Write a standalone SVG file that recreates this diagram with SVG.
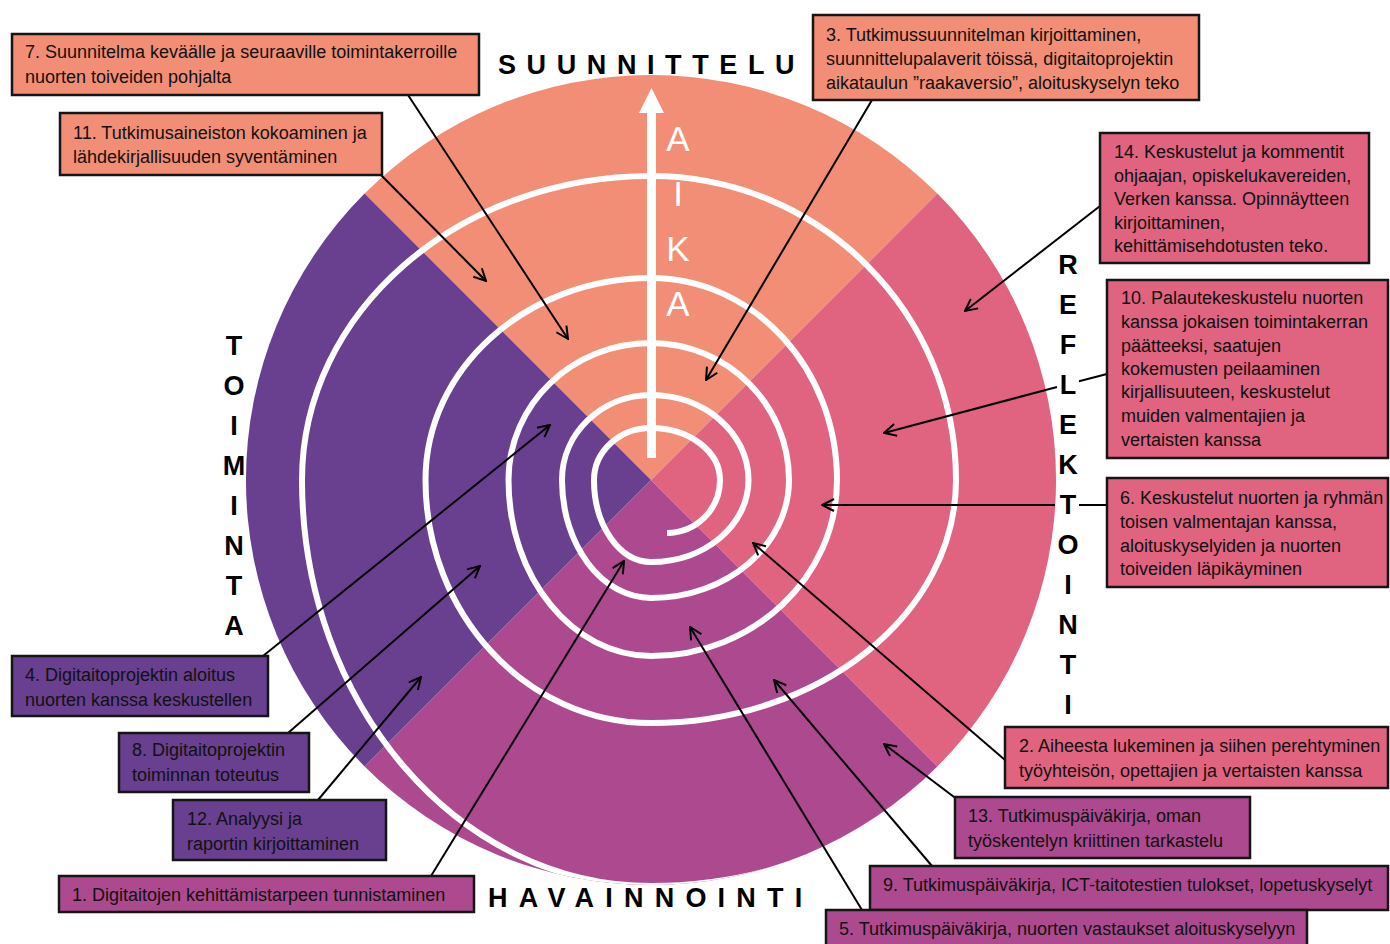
<svg xmlns="http://www.w3.org/2000/svg" width="1390" height="944" viewBox="0 0 1390 944">
<defs>
<style>
.peach{fill:#F18E75}
.pink{fill:#E06380}
.mag{fill:#AD4A8F}
.purp{fill:#693F8F}
.box{stroke:#151515;stroke-width:2.5}
.t{font-family:"Liberation Sans",Arial,sans-serif;font-size:18px;fill:#111}
.big{font-family:"Liberation Sans",Arial,sans-serif;font-weight:bold;font-size:27px;fill:#000;text-anchor:middle}
.aika{font-family:"Liberation Sans",Arial,sans-serif;font-size:35px;fill:#fff;text-anchor:middle}
.con{stroke:#000;stroke-width:2;fill:none;marker-end:url(#ah)}
</style>
<marker id="ah" viewBox="0 0 14 14" refX="13" refY="7" markerWidth="14" markerHeight="14" markerUnits="userSpaceOnUse" orient="auto">
<path d="M1,1 L13,7 L1,13" fill="none" stroke="#000" stroke-width="2"/>
</marker>
<clipPath id="diskclip"><circle cx="651" cy="480" r="405"/></clipPath>
</defs>
<g id="disk">
<path class="peach" d="M651,480 L364.6,193.6 A405,405 0 0 1 937.4,193.6 Z"/>
<path class="pink" d="M651,480 L937.4,193.6 A405,405 0 0 1 937.4,766.4 Z"/>
<path class="mag" d="M651,480 L937.4,766.4 A405,405 0 0 1 364.6,766.4 Z"/>
<path class="purp" d="M651,480 L364.6,766.4 A405,405 0 0 1 364.6,193.6 Z"/>
</g>
<g id="spiral" clip-path="url(#diskclip)">
<path fill="none" stroke="#fff" stroke-width="6" d="M667,533 C696.3,533 720,509.3 720,480 C720,451.3 689.1,428 651,428 C619.5,428 594,451.3 594,480 C594,525.3 619.5,562 651,562 C704.8,562 748.5,525.3 748.5,480 C748.5,433.1 704.8,395 651,395 C601.8,395 562,433.1 562,480 C562,545.2 601.8,598 651,598 C727.2,598 789,545.2 789,480 C789,404.3 727.2,343 651,343 C572.3,343 508.5,404.3 508.5,480 C508.5,577.2 572.3,656 651,656 C753.7,656 837,577.2 837,480 C837,368.4 753.7,278 651,278 C526.5,278 425.5,368.4 425.5,480 C425.5,614.2 526.5,723 651,723 C819.5,723 956,614.2 956,480 C956,312.1 819.5,176 651,176 C458.3,176 302,312.1 302,480 C302,704.2 458.3,886 651,886 C888,886 1080,704 1080,480"/>
</g>
<g id="time-arrow">
<rect x="647" y="110" width="9" height="348" fill="#fff"/>
<polygon points="651.5,88 639,113 664,113" fill="#fff"/>
<text class="aika" x="678" y="151">A</text>
<text class="aika" x="678" y="206">I</text>
<text class="aika" x="678" y="261">K</text>
<text class="aika" x="678" y="316">A</text>
</g>
<g id="phase-labels">
<text class="big" x="498" y="74" style="text-anchor:start;letter-spacing:10.6px">SUUNNITTELU</text>
<text class="big" x="488" y="907" style="text-anchor:start;letter-spacing:11.2px">HAVAINNOINTI</text>
<text class="big"><tspan x="234" y="355">T</tspan><tspan x="234" y="395">O</tspan><tspan x="234" y="435">I</tspan><tspan x="234" y="475">M</tspan><tspan x="234" y="515">I</tspan><tspan x="234" y="555">N</tspan><tspan x="234" y="595">T</tspan><tspan x="234" y="635">A</tspan></text>
<text class="big"><tspan x="1068" y="274">R</tspan><tspan x="1068" y="314">E</tspan><tspan x="1068" y="354">F</tspan><tspan x="1068" y="394">L</tspan><tspan x="1068" y="434">E</tspan><tspan x="1068" y="474">K</tspan><tspan x="1068" y="514">T</tspan><tspan x="1068" y="554">O</tspan><tspan x="1068" y="594">I</tspan><tspan x="1068" y="634">N</tspan><tspan x="1068" y="674">T</tspan><tspan x="1068" y="714">I</tspan></text>
</g>
<g id="connectors">
<path class="con" d="M408,95 L568,339"/>
<path class="con" d="M378,172 L486,281"/>
<path class="con" d="M872,100 L706,380"/>
<path class="con" d="M1100,206 L965,311"/>
<path class="con" d="M1107,374 L1079,381.3 M1057,387 L884,433"/>
<path class="con" d="M1107,505 L1079,505 M1055,505 L822,505"/>
<path class="con" d="M1005,760 L753,543"/>
<path class="con" d="M958,800 L884,744"/>
<path class="con" d="M932,866 L774,680"/>
<path class="con" d="M862,910 L690,627"/>
<path class="con" d="M431,876 L624,561"/>
<path class="con" d="M318,800 L421,677"/>
<path class="con" d="M288,733 L480,566"/>
<path class="con" d="M263,656 L550,425"/>
</g>
<g id="n7"><rect class="box peach" x="12" y="34" width="467" height="61"/><text class="t" x="25" y="58">7. Suunnitelma keväälle ja seuraaville toimintakerroille</text><text class="t" x="25" y="83">nuorten toiveiden pohjalta</text></g>
<g id="n11"><rect class="box peach" x="60" y="113" width="322" height="62"/><text class="t" x="73" y="139">11. Tutkimusaineiston kokoaminen ja</text><text class="t" x="73" y="163">lähdekirjallisuuden syventäminen</text></g>
<g id="n3"><rect class="box peach" x="813" y="15" width="386" height="85"/><text class="t" x="826" y="41">3. Tutkimussuunnitelman kirjoittaminen,</text><text class="t" x="826" y="65">suunnittelupalaverit töissä, digitaitoprojektin</text><text class="t" x="826" y="89">aikataulun ”raakaversio”, aloituskyselyn teko</text></g>
<g id="n14"><rect class="box pink" x="1100" y="133" width="269" height="130"/><text class="t" x="1114" y="158">14. Keskustelut ja kommentit</text><text class="t" x="1114" y="182">ohjaajan, opiskelukavereiden,</text><text class="t" x="1114" y="205">Verken kanssa. Opinnäytteen</text><text class="t" x="1114" y="229">kirjoittaminen,</text><text class="t" x="1114" y="252">kehittämisehdotusten teko.</text></g>
<g id="n10"><rect class="box pink" x="1107" y="280" width="281" height="178"/><text class="t" x="1121" y="304">10. Palautekeskustelu nuorten</text><text class="t" x="1121" y="328">kanssa jokaisen toimintakerran</text><text class="t" x="1121" y="352">päätteeksi, saatujen</text><text class="t" x="1121" y="375">kokemusten peilaaminen</text><text class="t" x="1121" y="398">kirjallisuuteen, keskustelut</text><text class="t" x="1121" y="422">muiden valmentajien ja</text><text class="t" x="1121" y="446">vertaisten kanssa</text></g>
<g id="n6"><rect class="box pink" x="1107" y="478" width="281" height="109"/><text class="t" x="1120" y="504">6. Keskustelut nuorten ja ryhmän</text><text class="t" x="1120" y="528"> toisen valmentajan kanssa,</text><text class="t" x="1120" y="552">aloituskyselyiden ja nuorten</text><text class="t" x="1120" y="575">toiveiden läpikäyminen</text></g>
<g id="n2"><rect class="box pink" x="1005" y="727" width="383" height="61"/><text class="t" x="1019" y="752">2. Aiheesta lukeminen ja siihen perehtyminen</text><text class="t" x="1019" y="777">työyhteisön, opettajien ja vertaisten kanssa</text></g>
<g id="n13"><rect class="box mag" x="955" y="797" width="295" height="61"/><text class="t" x="968" y="822">13. Tutkimuspäiväkirja, oman</text><text class="t" x="968" y="847">työskentelyn kriittinen tarkastelu</text></g>
<g id="n9"><rect class="box mag" x="870" y="866" width="518" height="44"/><text class="t" x="883" y="891">9. Tutkimuspäiväkirja, ICT-taitotestien tulokset, lopetuskyselyt</text></g>
<g id="n5"><rect class="box mag" x="826" y="910" width="481" height="40"/><text class="t" x="839" y="935">5. Tutkimuspäiväkirja, nuorten vastaukset aloituskyselyyn</text></g>
<g id="n4"><rect class="box purp" x="12" y="656" width="256" height="60"/><text class="t" x="25" y="681">4. Digitaitoprojektin aloitus</text><text class="t" x="25" y="706">nuorten kanssa keskustellen</text></g>
<g id="n8"><rect class="box purp" x="119" y="733" width="190" height="59"/><text class="t" x="132" y="756">8. Digitaitoprojektin</text><text class="t" x="132" y="781">toiminnan toteutus</text></g>
<g id="n12"><rect class="box purp" x="173" y="800" width="213" height="60"/><text class="t" x="187" y="825">12. Analyysi ja</text><text class="t" x="187" y="850">raportin kirjoittaminen</text></g>
<g id="n1"><rect class="box mag" x="59" y="876" width="415" height="36"/><text class="t" x="72" y="901">1. Digitaitojen kehittämistarpeen tunnistaminen</text></g>
</svg>
